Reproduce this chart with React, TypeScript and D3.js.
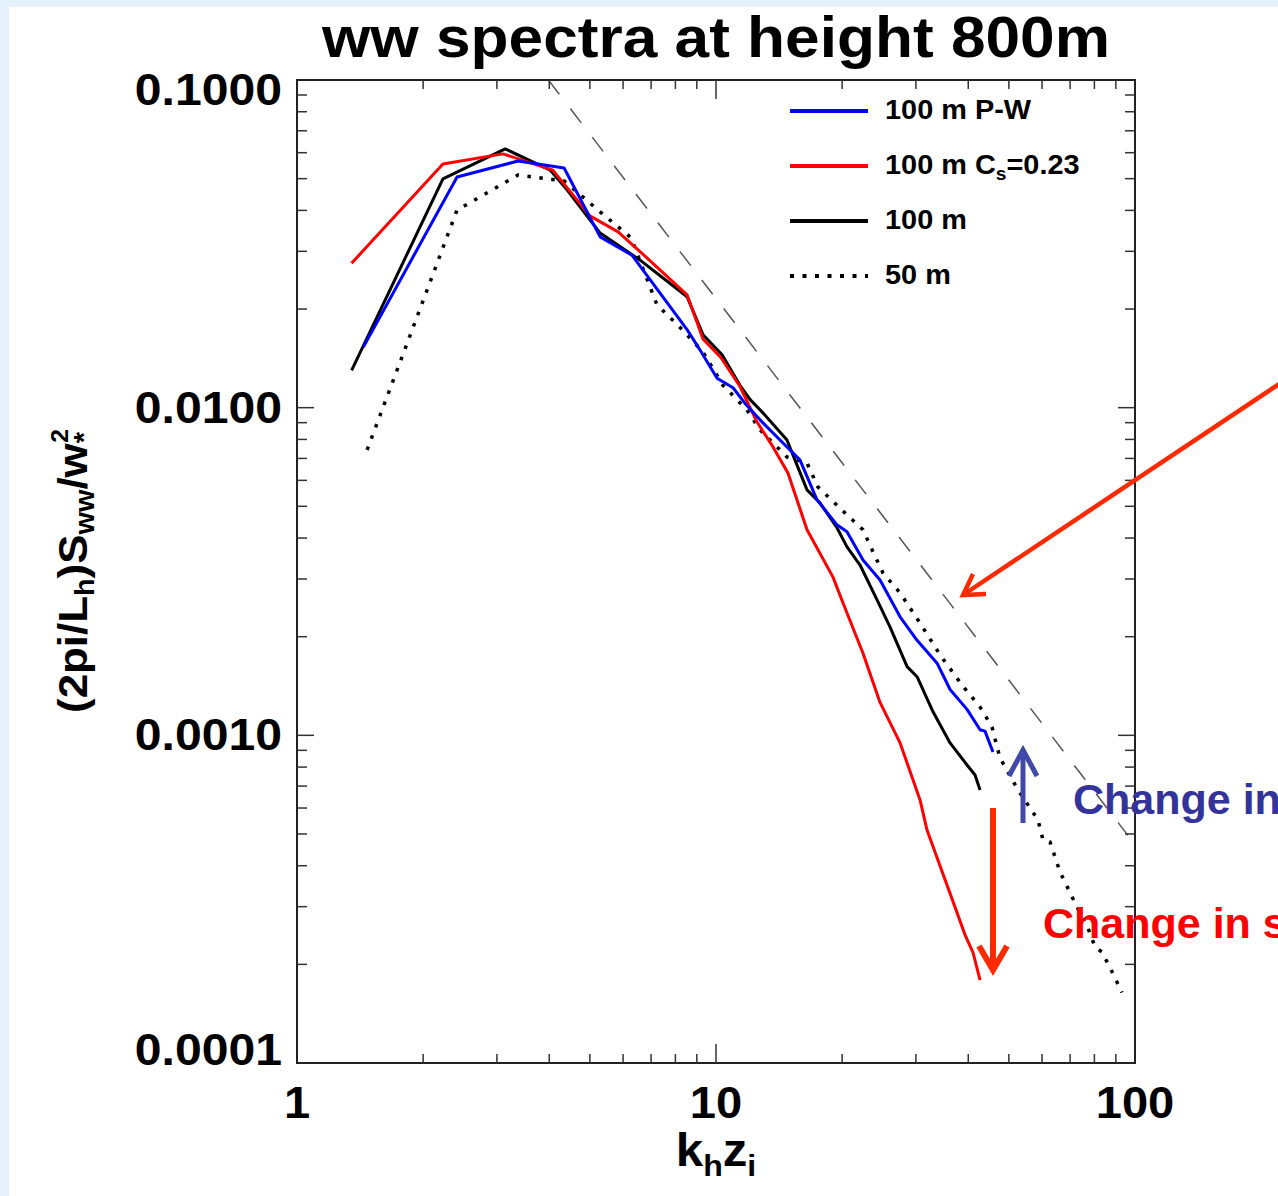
import React from "react";
import * as d3 from "d3";

// ---------- data ----------
const kBlue = [1.44, 2.41, 3.37, 4.34, 5.29, 6.30, 8.53, 9.16, 10.06, 10.98, 11.73, 12.74, 13.68, 15.87, 17.42, 19.44, 20.54, 22.43, 24.63, 27.50, 30.19, 33.70, 36.19, 39.73, 42.68, 43.85, 45.82];
const sBlue = [0.0153, 0.0506, 0.0566, 0.0539, 0.0332, 0.0292, 0.0173, 0.0150, 0.0123, 0.0115, 0.0103, 0.00918, 0.00837, 0.00692, 0.00523, 0.00439, 0.00418, 0.00343, 0.00298, 0.00230, 0.00195, 0.00166, 0.00138, 0.00120, 0.00104, 0.00103, 0.000890];

const kRed = [1.35, 2.23, 3.10, 4.08, 5.00, 5.84, 6.77, 8.53, 9.31, 10.28, 11.41, 12.53, 13.68, 14.85, 16.49, 19.02, 20.09, 22.43, 24.63, 27.50, 30.69, 31.89, 34.26, 37.20, 39.30, 41.07, 42.68];
const sRed = [0.0276, 0.0554, 0.0595, 0.0531, 0.0385, 0.0344, 0.0290, 0.0221, 0.0162, 0.0142, 0.0116, 0.00904, 0.00759, 0.00632, 0.00424, 0.00304, 0.00254, 0.00178, 0.00126, 0.000948, 0.000635, 0.000514, 0.000399, 0.000299, 0.000246, 0.000217, 0.000179];

const kBlack = [1.35, 2.23, 3.14, 4.02, 4.41, 5.29, 6.59, 8.53, 9.31, 10.34, 11.41, 12.05, 12.95, 14.77, 15.61, 16.49, 17.71, 19.44, 20.54, 22.07, 24.23, 26.03, 28.58, 30.19, 32.96, 36.19, 39.73, 41.52, 42.68];
const sBlack = [0.0130, 0.0499, 0.0616, 0.0531, 0.0462, 0.0341, 0.0282, 0.0218, 0.0167, 0.0145, 0.0117, 0.0106, 0.00963, 0.00797, 0.00668, 0.00561, 0.00512, 0.00430, 0.00376, 0.00331, 0.00259, 0.00214, 0.00162, 0.00151, 0.00118, 0.000948, 0.000812, 0.000757, 0.000681];

const kDot = [1.47, 2.41, 3.37, 4.34, 5.29, 6.27, 7.23, 8.20, 9.31, 10.39, 11.86, 12.74, 14.77, 16.49, 17.51, 20.32, 22.43, 23.70, 25.04, 27.50, 30.69, 34.26, 38.87, 42.68, 45.57, 47.62, 52.58, 58.68, 60.32, 62.68, 66.22, 71.93, 77.24, 80.27, 83.41, 88.13, 93.11];
const sDot = [0.00743, 0.0401, 0.0513, 0.0492, 0.0396, 0.0330, 0.0206, 0.0176, 0.0148, 0.0117, 0.00984, 0.00855, 0.00707, 0.00678, 0.00573, 0.00477, 0.00424, 0.00363, 0.00313, 0.00272, 0.00220, 0.00176, 0.00141, 0.00122, 0.00106, 0.000853, 0.000681, 0.000552, 0.000479, 0.000473, 0.000383, 0.000308, 0.000258, 0.000226, 0.000218, 0.000190, 0.000164];

// -5/3 reference line end points
const kRef = [3.98, 96.2];
const sRef = [0.1, 0.000495];

const xTickValues = [1, 10, 100];
const xTickLabels = ["1", "10", "100"];
const yTickValues = [0.1, 0.01, 0.001, 0.0001];
const yTickLabels = ["0.1000", "0.0100", "0.0010", "0.0001"];
const legendLabels = ["100 m P-W", "100 m C", "100 m", "50 m"];

const W = 1278, H = 1196;
const L = 297, R = 1135, T = 80, B = 1063;
const FONT = "'Liberation Sans', Arial, Helvetica, sans-serif";
const SX = 1.07;

const zip = (k: number[], s: number[]) => k.map((v, i) => [v, s[i]] as [number, number]);

export default function App() {
  const x = d3.scaleLog().domain([1, 100]).range([L, R]);
  const y = d3.scaleLog().domain([0.0001, 0.1]).range([B, T]);
  const line = d3.line<[number, number]>().x(d => x(d[0])).y(d => y(d[1]));

  const xt = x.ticks();
  const yt = y.ticks();
  const isMajor = (v: number) => Math.abs(Math.log10(v) - Math.round(Math.log10(v))) < 1e-6;

  const tickColor = "#333";
  const ticks: JSX.Element[] = [];
  xt.forEach((v, i) => {
    const px = x(v);
    if (px <= L + 0.5 || px >= R - 0.5) return;
    const len = isMajor(v) ? 19 : 9;
    ticks.push(<line key={"xb" + i} x1={px} x2={px} y1={B} y2={B - len} stroke={tickColor} strokeWidth={1.5} />);
    ticks.push(<line key={"xt" + i} x1={px} x2={px} y1={T} y2={T + len} stroke={tickColor} strokeWidth={1.5} />);
  });
  yt.forEach((v, i) => {
    const py = y(v);
    if (py <= T + 0.5 || py >= B - 0.5) return;
    const len = isMajor(v) ? 17 : 10;
    ticks.push(<line key={"yl" + i} x1={L} x2={L + len} y1={py} y2={py} stroke={tickColor} strokeWidth={1.5} />);
    ticks.push(<line key={"yr" + i} x1={R} x2={R - len} y1={py} y2={py} stroke={tickColor} strokeWidth={1.5} />);
  });

  const series = [
    { d: zip(kDot, sDot), color: "#000", dash: "3.5 8.5", w: 3.5 },
    { d: zip(kBlack, sBlack), color: "#000", dash: undefined, w: 3 },
    { d: zip(kRed, sRed), color: "#ff0000", dash: undefined, w: 3 },
    { d: zip(kBlue, sBlue), color: "#0000ff", dash: undefined, w: 3 },
  ];

  const legendStyles = [
    { color: "#0000ff", dash: undefined },
    { color: "#ff0000", dash: undefined },
    { color: "#000", dash: undefined },
    { color: "#000", dash: "4 8.5" },
  ];

  const yLabelBase = (v: number) => (v === 0.1 ? 105 : v === 0.0001 ? 1065 : y(v) + 15);

  const arrowRed = "#ff2a00";
  const arrowBlue = "#4048a8";

  return (
    <div style={{ position: "absolute", left: 0, top: 0, width: W, height: H, overflow: "hidden" }}>
      <svg width={W} height={H} style={{ display: "block" }} fontFamily={FONT}>
        <defs>
          <clipPath id="plotclip">
            <rect x={L} y={T} width={R - L} height={B - T} />
          </clipPath>
        </defs>
        <rect x={0} y={0} width={W} height={H} fill="#e4f0fc" />
        <rect x={9} y={7} width={W - 9} height={H - 7} fill="#ffffff" />

        {/* title */}
        <text x={322} y={57} fontSize={58} fontWeight="bold" textLength={788} lengthAdjust="spacingAndGlyphs" fill="#000">
          ww spectra at height 800m
        </text>

        {/* data */}
        <g clipPath="url(#plotclip)">
          <path d={line(zip(kRef, sRef)) || ""} fill="none" stroke="#555" strokeWidth={1.5} strokeDasharray="18 18" />
          {series.map((s, i) => (
            <path key={i} d={line(s.d) || ""} fill="none" stroke={s.color} strokeWidth={s.w}
              strokeDasharray={s.dash} strokeLinejoin="round" />
          ))}
        </g>

        {/* frame and ticks */}
        <rect x={L} y={T} width={R - L} height={B - T} fill="none" stroke="#222" strokeWidth={2} />
        {ticks}

        {/* y tick labels */}
        {yTickValues.map((v, i) => (
          <text key={"yl" + i} transform={`translate(282,${yLabelBase(v)}) scale(${SX},1)`} textAnchor="end"
            fontSize={45} fontWeight="bold" fill="#000">{yTickLabels[i]}</text>
        ))}
        {/* x tick labels */}
        {xTickValues.map((v, i) => (
          <text key={"xl" + i} transform={`translate(${x(v)},1118) scale(${SX},1)`} textAnchor="middle"
            fontSize={44} fontWeight="bold" fill="#000">{xTickLabels[i]}</text>
        ))}

        {/* x axis title */}
        <g transform={`translate(716,1166) scale(${SX},1)`}>
          <text textAnchor="middle" fontSize={46} fontWeight="bold" fill="#000">
            k<tspan fontSize={30} dy={10}>h</tspan><tspan dy={-10}>z</tspan><tspan fontSize={30} dy={10}>i</tspan>
          </text>
        </g>

        {/* y axis title */}
        <g transform={`translate(87,571) rotate(-90) scale(${SX},1)`}>
          <text textAnchor="middle" fontSize={41} fontWeight="bold" fill="#000">
            (2pi/L<tspan fontSize={27} dy={7}>h</tspan><tspan dy={-7}>)S</tspan><tspan fontSize={27} dy={7}>ww</tspan><tspan dy={-7}>/w</tspan><tspan fontSize={27} dy={6}>*</tspan><tspan fontSize={23} dx={-10} dy={-25}>2</tspan>
          </text>
        </g>

        {/* legend */}
        {legendLabels.map((lab, i) => {
          const ly = 111 + i * 55;
          const st = legendStyles[i];
          return (
            <g key={"lg" + i}>
              <line x1={790} x2={868} y1={ly} y2={ly} stroke={st.color} strokeWidth={4}
                strokeDasharray={st.dash} />
              <g transform={`translate(885,${ly + 8}) scale(${SX},1)`}>
                <text fontSize={27} fontWeight="bold" fill="#000">
                  {i === 1 ? (
                    <>{lab}<tspan fontSize={18} dy={6}>s</tspan><tspan dy={-6}>=0.23</tspan></>
                  ) : lab}
                </text>
              </g>
            </g>
          );
        })}

        {/* annotations */}
        <g stroke={arrowRed} strokeWidth={4.5} fill="none" strokeLinecap="butt">
          <line x1={1300} x2={963} y1={370} y2={595} />
          <polyline points="973,574 963,595 986,594" strokeLinejoin="miter" />
        </g>
        <g stroke={arrowBlue} strokeWidth={5} fill="none">
          <line x1={1023} x2={1023} y1={823} y2={750} />
          <polyline points="1009,776 1023,750 1037,776" />
        </g>
        <g stroke={arrowRed} strokeWidth={6} fill="none">
          <line x1={993} x2={993} y1={808} y2={970} />
          <polyline points="979,946 993,970 1007,946" />
        </g>
        <text x={1073} y={814} fontSize={43} fontWeight="bold" fill="#333399">Change in</text>
        <text x={1043} y={938} fontSize={43} fontWeight="bold" fill="#ff0000">Change in s</text>
      </svg>
    </div>
  );
}
